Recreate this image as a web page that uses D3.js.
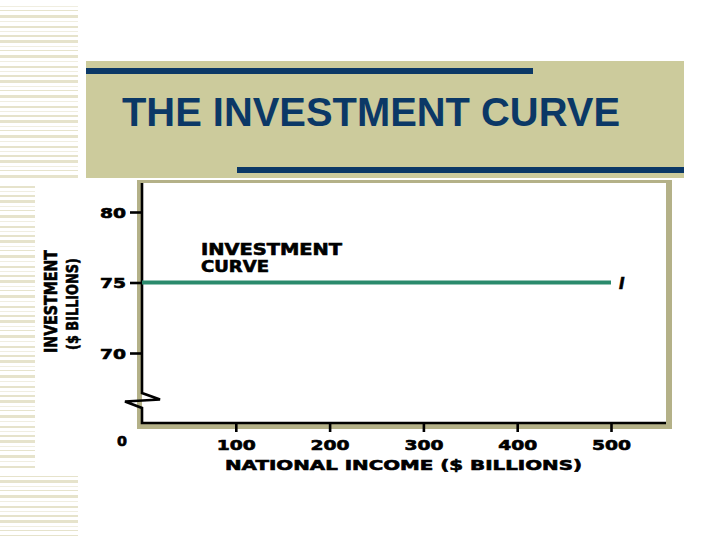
<!DOCTYPE html>
<html>
<head>
<meta charset="utf-8">
<script src="https://cdn.jsdelivr.net/npm/d3@7"></script>
<style>
  html, body { margin: 0; padding: 0; background: #ffffff; }
  svg { display: block; }
</style>
</head>
<body>
<svg id="chart" width="720" height="540"></svg>
<script>
// ---- data ----
const income = [0, 100, 200, 300, 400, 500];          // national income ($ billions)
const investment = [75, 75, 75, 75, 75, 75];          // investment ($ billions)
const xTicks = [100, 200, 300, 400, 500];
const yTicks = [70, 75, 80];
const title = "THE INVESTMENT CURVE";
const xTitle = "NATIONAL INCOME ($ BILLIONS)";
const yTitle1 = "INVESTMENT";
const yTitle2 = "($ BILLIONS)";
const curveLabel = ["INVESTMENT", "CURVE"];
const seriesLabel = "I";

// ---- style ----
const BLUE = "#0b3866", BOX = "#cccb9c", FRAME = "#b4b188", GREEN = "#2a8a6c";
const STRIPE = "#e6e3cb", STRIPE2 = "#f0eee0";
const WIDE = "'DejaVu Sans', Verdana, sans-serif";
const NARROW = "'DejaVu Sans Condensed', 'DejaVu Sans', sans-serif";

const svg = d3.select("#chart");
svg.append("rect").attr("width", 720).attr("height", 540).attr("fill", "#fff");

// decorative stripes at left
const defs = svg.append("defs");
const pat = defs.append("pattern").attr("id", "stripes")
  .attr("patternUnits", "userSpaceOnUse").attr("width", 80).attr("height", 40);
[[0,3,STRIPE],[6,1,STRIPE2],[10,1,STRIPE],[15,3,STRIPE],[21,1,STRIPE2],[26,2,STRIPE],[31,1,STRIPE2],[35,2,STRIPE]]
  .forEach(([y,h,c]) => pat.append("rect").attr("x",0).attr("y",y).attr("width",80).attr("height",h).attr("fill",c));
svg.append("rect").attr("x",0).attr("y",4).attr("width",78).attr("height",176).attr("fill","url(#stripes)");
svg.append("rect").attr("x",0).attr("y",183).attr("width",35).attr("height",285).attr("fill","url(#stripes)");
svg.append("rect").attr("x",0).attr("y",476).attr("width",78).attr("height",60).attr("fill","url(#stripes)");

// title box
svg.append("rect").attr("x",86).attr("y",61).attr("width",598).attr("height",117).attr("fill",BOX);
svg.append("rect").attr("x",86).attr("y",68).attr("width",447).attr("height",6).attr("fill",BLUE);
svg.append("rect").attr("x",237).attr("y",167).attr("width",447).attr("height",6).attr("fill",BLUE);
svg.append("text").attr("x",122).attr("y",126)
  .attr("font-family","'Liberation Sans', Arial, sans-serif").attr("font-weight","bold")
  .attr("font-size",40).attr("fill",BLUE)
  .attr("textLength",498).attr("lengthAdjust","spacingAndGlyphs").text(title);

// chart frame
svg.append("rect").attr("x",137).attr("y",180).attr("width",535).attr("height",249).attr("fill",FRAME);
svg.append("rect").attr("x",142).attr("y",183).attr("width",524).attr("height",240).attr("fill","#fff");

// scales
const x = d3.scaleLinear().domain([0, 500]).range([142, 611]);
const y = d3.scaleLinear().domain([70, 80]).range([353, 212]);
const x0 = x(0), yBase = 423;

// axis lines (with break on y axis)
svg.append("path")
  .attr("d", `M${x0},183 L${x0},393 L${x0+18},399.5 L${x0-17},401.5 L${x0},408 L${x0},${yBase} L666,${yBase}`)
  .attr("stroke","#000").attr("stroke-width",2.6).attr("fill","none").attr("stroke-linejoin","miter");

function heavy(sel) {
  return sel.attr("fill","#000").attr("stroke","#000").attr("stroke-width",0.6).attr("paint-order","stroke");
}

// y axis ticks
const yAxis = svg.append("g").attr("transform", `translate(${x0},0)`)
  .call(d3.axisLeft(y).tickValues(yTicks).tickSize(12).tickPadding(4).tickFormat(d3.format("d")));
yAxis.select(".domain").remove();
yAxis.selectAll(".tick line").attr("stroke","#000").attr("stroke-width",2.6);
heavy(yAxis.selectAll(".tick text")
  .attr("font-family",WIDE).attr("font-weight","bold").attr("font-size",14)
  .attr("dy",null).attr("y",5)
  .attr("textLength",26).attr("lengthAdjust","spacingAndGlyphs"));

// x axis ticks
const xAxis = svg.append("g").attr("transform", `translate(0,${yBase})`)
  .call(d3.axisBottom(x).tickValues(xTicks).tickSize(9).tickFormat(d3.format("d")));
xAxis.select(".domain").remove();
xAxis.selectAll(".tick line").attr("stroke","#000").attr("stroke-width",2.6);
heavy(xAxis.selectAll(".tick text")
  .attr("font-family",WIDE).attr("font-weight","bold").attr("font-size",14)
  .attr("dy",null).attr("y",27)
  .attr("textLength",39).attr("lengthAdjust","spacingAndGlyphs"));

// "0" at origin
heavy(svg.append("text").attr("x",122).attr("y",446).attr("text-anchor","middle")
  .attr("font-family",WIDE).attr("font-weight","bold").attr("font-size",14)
  .attr("textLength",10).attr("lengthAdjust","spacingAndGlyphs").text("0"));

// investment line
const line = d3.line().x((d,i) => x(income[i])).y(d => y(d));
svg.append("path").datum(investment).attr("d", line)
  .attr("fill","none").attr("stroke",GREEN).attr("stroke-width",4);

// series label I
heavy(svg.append("text").attr("x", x(income[income.length-1]) + 8).attr("y", y(investment[investment.length-1]) + 6)
  .attr("font-family",WIDE).attr("font-weight","bold").attr("font-style","italic").attr("font-size",15)
  .text(seriesLabel));

// curve label
heavy(svg.append("text").attr("x",201).attr("y",255)
  .attr("font-family",WIDE).attr("font-weight","bold").attr("font-size",15)
  .attr("textLength",141).attr("lengthAdjust","spacingAndGlyphs").text(curveLabel[0]));
heavy(svg.append("text").attr("x",201).attr("y",272)
  .attr("font-family",WIDE).attr("font-weight","bold").attr("font-size",15)
  .attr("textLength",68).attr("lengthAdjust","spacingAndGlyphs").text(curveLabel[1]));

// x axis title
heavy(svg.append("text").attr("x",225).attr("y",470)
  .attr("font-family",WIDE).attr("font-weight","bold").attr("font-size",14)
  .attr("textLength",357).attr("lengthAdjust","spacingAndGlyphs").text(xTitle));

// y axis titles (rotated)
heavy(svg.append("text").attr("transform","translate(57,353) rotate(-90)")
  .attr("font-family",NARROW).attr("font-weight","bold")
  .attr("font-size",17).attr("textLength",103).attr("lengthAdjust","spacingAndGlyphs").text(yTitle1));
heavy(svg.append("text").attr("transform","translate(78,350) rotate(-90)")
  .attr("font-family",NARROW).attr("font-weight","bold")
  .attr("font-size",16).attr("textLength",92).attr("lengthAdjust","spacingAndGlyphs").text(yTitle2));
</script>
</body>
</html>
